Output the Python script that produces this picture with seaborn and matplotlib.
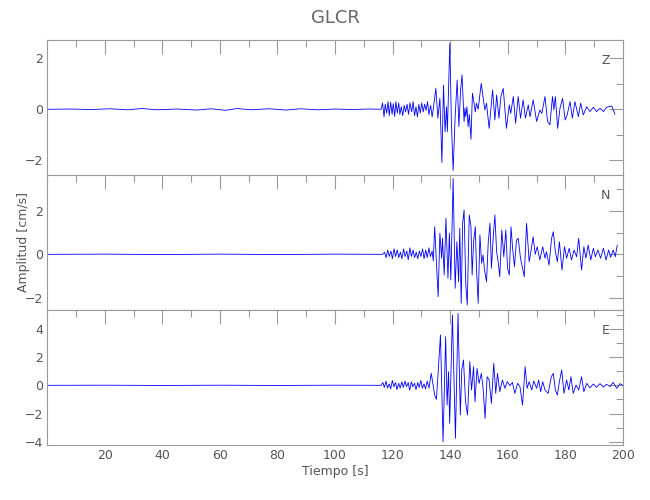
import matplotlib
matplotlib.use("Agg")
import matplotlib.pyplot as plt
import seaborn as sns
from matplotlib.ticker import MultipleLocator

# Station GLCR, three components
components = ["Z", "N", "E"]

z_time = [0, 8, 15, 22, 28, 33, 38, 45, 52, 57, 62, 66, 71, 77, 83, 88, 94, 100, 106, 112, 115.5,
          116.0, 116.5, 117.0, 117.4, 117.9, 118.4, 118.8, 119.3, 119.8, 120.2, 120.7, 121.1, 121.6,
          122.1, 122.5, 123.0, 123.5, 124.0, 124.5, 125.0, 125.5, 126.0, 126.6, 127.1, 127.6, 128.1,
          128.6, 129.1, 129.6, 130.1, 130.6, 131.1, 131.6, 132.1, 132.6, 133.2, 133.7, 134.2,
          135.0, 135.7, 136.4, 137.1, 137.65, 138.2, 138.7, 139.0, 139.85, 140.4, 141.0, 141.7,
          142.4, 143.0, 143.6, 144.1, 144.8, 145.1, 145.4, 145.8, 146.2, 146.6, 147.2, 147.7, 148.2,
          148.7, 149.1, 149.7, 150.75, 152.0, 152.6, 153.5, 154.7, 155.5, 156.1, 156.9, 157.6, 158.4,
          159.5, 160.5, 161.0, 161.9, 162.7, 163.6, 164.4, 165.3, 166.1, 167.1, 167.7, 168.8, 170.0,
          171.1, 171.8, 172.9, 173.8, 174.6, 175.5, 176.0, 176.5, 177.3, 178.1, 179.0, 179.9, 180.6,
          181.6, 182.4, 183.3, 184.5, 185.3, 186.2, 187.4, 188.5, 189.7, 190.8, 192.0, 193.2, 194.3,
          196.1, 197.2]
z_amp = [0, 0.01, -0.01, 0.02, -0.02, 0.03, -0.02, 0.01, -0.03, 0.02, -0.04, 0.03, -0.02, 0.02, -0.03,
         0.02, -0.02, 0.01, -0.01, 0.01, 0,
         0.0, 0.25, -0.3, 0.2, -0.15, 0.3, -0.25, 0.28, -0.2, 0.22, -0.28, 0.3, -0.15,
         0.25, -0.2, 0.1, -0.25, 0.15, -0.1, 0.2, -0.2, 0.25, -0.1, 0.3, -0.25, 0.1,
         -0.3, 0.2, -0.15, 0.25, -0.1, 0.2, -0.05, 0.3, -0.2, 0.15, -0.3, 0.1,
         0.82, -0.35, 0.43, -2.09, 0.95, -0.88, 0.1, -0.88, 2.59, -0.55, -2.4, -0.29,
         1.15, -0.68, 0.76, 1.35, -0.48, 0.05, -0.29, 0.1, -0.68, -0.2, -1.18, 0.63, 0.3,
         -0.1, 0.24, 0.0, 1.02, -0.03, 0.24, -0.75, 0.76, -0.42, 0.56, -0.35, 0.5, 0.82,
         -0.75, 0.17, -0.16, 0.5, -0.55, 0.5, -0.35, 0.37, -0.35, 0.17, -0.29, 0.37, -0.48,
         -0.03, -0.16, 0.5, -0.48, -0.61, 0.5, -0.02, 0.5, -0.75, 0.04, 0.43, -0.42, -0.22,
         0.3, -0.35, 0.3, -0.29, 0.24, -0.22, 0.1, -0.09, 0.08, -0.09, 0.04, -0.09, 0.08,
         0.13, -0.2]

n_time = [0, 20, 40, 60, 80, 100, 116.5,
          117.2, 117.7, 118.3, 118.8, 119.4, 119.9, 120.5, 121.0, 121.6, 122.1, 122.7, 123.2, 123.8,
          124.3, 124.9, 125.4, 126.0, 126.5, 127.1, 127.6, 128.2, 128.7, 129.3, 129.8, 130.4, 130.9,
          131.5, 132.0, 132.6, 133.1, 133.7,
          134.1, 134.6, 135.2, 135.8, 136.4, 137.0, 137.3, 137.9, 138.5, 139.2, 139.7, 140.2, 141.0,
          141.7, 142.3, 142.9, 143.3, 143.8, 144.3, 144.8, 145.4, 145.9, 146.6, 147.2, 147.6, 148.1,
          148.7, 149.1, 149.7, 150.3, 150.9, 151.4, 151.9, 152.6, 153.2, 153.8, 154.3, 154.9, 155.5,
          156.1, 156.7, 157.2, 157.9, 158.6, 159.3, 159.9, 160.5, 161.1, 161.65, 162.3, 163.0, 163.6,
          164.4, 165.7, 166.5, 167.4, 168.0, 168.8, 169.5, 170.2, 171.1, 172.1, 172.9, 173.4, 174.3,
          175.2, 175.8, 176.5, 177.2, 177.9, 178.8, 179.7, 180.4, 181.3, 182.1, 183.0, 183.9, 184.6,
          185.6, 186.4, 187.1, 187.9, 188.8, 189.7, 190.4, 191.3, 192.2, 193.2, 194.1, 195.0, 195.7,
          196.6, 197.3, 198.0]
n_amp = [0, 0.01, -0.01, 0.01, -0.01, 0.01, 0,
         0.1, -0.15, 0.2, -0.1, 0.15, -0.2, 0.25, -0.1, 0.2, -0.15, 0.1, -0.2, 0.25,
         -0.1, 0.15, -0.25, 0.3, -0.1, 0.2, -0.15, 0.1, -0.2, 0.15, -0.1, 0.25, -0.2,
         0.2, -0.15, 0.3, -0.1, 0.15,
         -0.3, 1.27, -0.41, -1.95, 0.97, -0.18, 0.74, -0.95, 1.66, -1.1, 0.97, -1.18, 3.49,
         -1.56, 0.58, -1.26, 1.2, -2.25, 1.43, 2.04, -1.41, -2.33, 1.81, 1.27, -0.95, 0.58,
         1.27, -0.64, -2.25, 0.89, -0.41, -0.03, -0.72, -1.26, 0.58, 1.43, -0.64, 0.74, 1.81,
         0.12, -0.41, -1.03, 1.12, -0.11, 1.12, -0.64, -0.95, 1.27, 0.28, -0.57, 0.66, 0.74,
         -0.18, -1.03, 1.43, -0.34, 0.12, 0.81, 0.0, 0.35, -0.26, 0.35, -0.18, 0.12, -0.49,
         0.74, 1.04, 0.12, -0.34, 0.58, -0.72, 0.35, -0.18, 0.28, -0.26, 0.2, -0.11, 0.74,
         -0.72, 0.35, -0.18, 0.43, -0.26, 0.28, -0.11, 0.2, -0.18, 0.28, -0.26, 0.2, -0.14,
         0.2, -0.11, 0.43]

e_time = [0, 20, 40, 60, 80, 100, 116.0,
          116.6, 117.1, 117.7, 118.2, 118.8, 119.3, 119.9, 120.4, 121.0, 121.5, 122.1, 122.6, 123.2,
          123.7, 124.3, 124.8, 125.4, 125.9, 126.5, 127.0, 127.6, 128.1, 128.7, 129.2, 129.8, 130.3,
          130.9, 131.4, 132.0, 132.6,
          133.4, 134.6, 135.2, 136.6, 137.5, 138.4, 138.9, 139.4, 139.8, 140.75, 141.8, 142.7, 143.5,
          144.0, 144.6, 145.3, 146.0, 146.8, 147.4, 148.1, 148.6, 149.3, 150.0, 150.8, 151.4, 152.1,
          152.8, 153.5, 154.3, 155.1, 155.8, 156.4, 157.2, 158.1, 159.0, 159.8, 160.7, 161.6, 162.4,
          163.4, 164.2, 165.1, 166.0, 166.7, 167.4, 168.3, 169.0, 170.0, 170.7, 171.4, 172.1, 172.9,
          174.0, 175.1, 175.8, 176.5, 177.2, 177.9, 178.7, 179.5, 180.4, 181.2, 181.9, 182.7, 183.7,
          184.6, 185.6, 186.4, 187.4, 188.5, 189.7, 190.8, 192.0, 193.2, 194.3, 195.5, 196.6, 197.8,
          199.0, 200.0]
e_amp = [0, 0.01, -0.01, 0.01, -0.01, 0.01, 0,
         0.2, -0.15, 0.3, -0.2, 0.1, -0.25, 0.35, -0.1, 0.2, -0.3, 0.15, -0.2, 0.25,
         -0.15, 0.3, -0.1, 0.2, -0.35, 0.25, -0.1, 0.15, -0.3, 0.2, -0.15, 0.35, -0.2,
         0.1, -0.25, 0.3, -0.2,
         0.85, -0.69, -1.0, 3.57, -4.0, 3.45, -1.4, 0.97, -2.7, 4.99, -3.76, 5.1, -2.1,
         1.09, 1.8, -1.16, -2.1, 1.68, -0.33, 1.32, -1.16, 1.2, 0.14, 0.85, -0.21, -2.34,
         0.61, 0.38, -1.28, 1.56, -0.57, 0.85, -0.45, 0.38, -0.21, 0.26, -0.02, 0.21, -0.57,
         0.14, -0.09, -1.4, 1.32, -0.21, 0.26, -0.33, 0.31, -0.21, 0.38, -0.45, 0.26, -0.33,
         -0.57, 0.61, 0.85, -0.33, -0.69, 0.26, 1.09, -0.57, 0.38, -0.33, 0.61, -0.57, 0.02,
         -0.33, 0.61, -0.45, 0.14, -0.17, 0.09, -0.14, 0.12, -0.12, 0.07, -0.09, 0.21, -0.21,
         0.12, -0.02]

x_ticks = [20, 40, 60, 80, 100, 120, 140, 160, 180, 200]

series = [(z_time, z_amp), (n_time, n_amp), (e_time, e_amp)]
y_limits = [(-2.58, 2.72), (-2.56, 3.65), (-4.23, 5.34)]

sns.set_style("white")
plt.rcParams["font.family"] = ["Liberation Sans Narrow", "DejaVu Sans"]

axis_gray = "#9a9a9a"
text_gray = "#555555"

fig, axes = plt.subplots(3, 1, figsize=(6.5, 5), dpi=100, sharex=True)
fig.subplots_adjust(left=0.0725, right=0.9585, bottom=0.11, top=0.92, hspace=0)

for ax, (t, a), comp, ylim in zip(axes, series, components, y_limits):
    sns.lineplot(x=t, y=a, ax=ax, color="#0000ff", linewidth=0.6,
                 estimator=None, sort=False)
    ax.set_xlim(0, 200)
    ax.set_ylim(*ylim)
    ax.set_xticks(x_ticks)
    ax.xaxis.set_minor_locator(MultipleLocator(10))
    ax.yaxis.set_major_locator(MultipleLocator(2))
    ax.yaxis.set_minor_locator(MultipleLocator(1))
    ax.tick_params(which="both", direction="in", top=True, right=True,
                   color=axis_gray, labelcolor=text_gray, labelsize=9, width=0.8)
    ax.tick_params(which="major", length=10, pad=3)
    ax.tick_params(which="minor", length=5)
    for s in ax.spines.values():
        s.set_color(axis_gray)
        s.set_linewidth(0.8)
    ax.text(0.97, 0.845, comp, transform=ax.transAxes, ha="center", va="center",
            color=text_gray, fontsize=9)
    ax.set_ylabel("")

axes[1].set_ylabel("Amplitud [cm/s]", color=text_gray, fontsize=9)
axes[1].yaxis.set_label_coords(-0.03, 0.5)
axes[2].set_xlabel("Tiempo [s]", color=text_gray, fontsize=9, labelpad=2)
axes[0].set_title("GLCR", color="#666666", fontsize=13, pad=12)

fig.savefig("out.png", dpi=100)
